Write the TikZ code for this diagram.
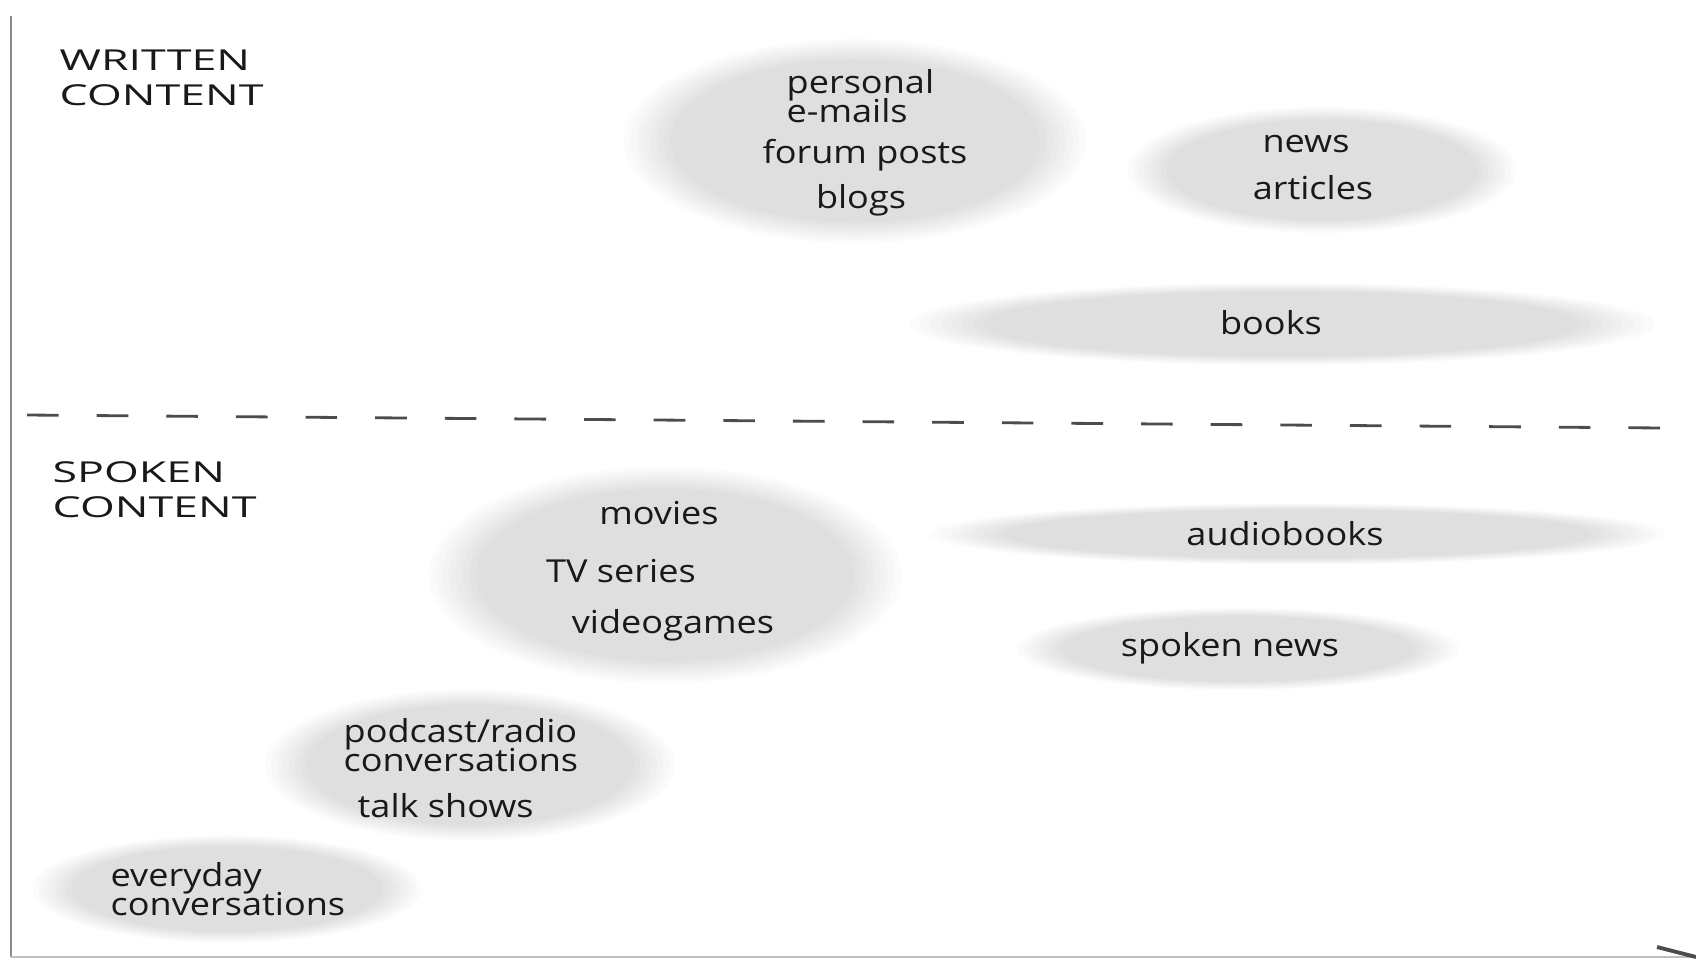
\documentclass[tikz,border=0pt]{standalone}
\usepackage{fontspec}
\setmainfont{Open Sans}
\newfontfamily\handfont[FakeStretch=1.14]{Open Sans}
\newfontfamily\capsfont[FakeStretch=1.55]{Open Sans}
% soft grey cloud: stacked faint ellipses round a named centre
\newcommand{\cloud}[5]{%
	\coordinate (#1) at (#2,#3);
	\foreach \s in {1.05,1.02,...,0.83}
		\fill[black, opacity=0.016] (#1) ellipse ({#4cm*\s} and {#5cm*\s});
}

\begin{document}
\begin{tikzpicture}
	[x=0.01cm, y=-0.01cm,
	hand/.style={font={\handfont\fontsize{9}{8.2}\selectfont\lineskiplimit=-20pt},
		text=black!90, inner sep=0pt, align=left},
	heading/.style={font={\capsfont\fontsize{8.2}{9.9}\selectfont},
		text=black!90, inner sep=0pt, align=left, anchor=west},
	axis/.style={draw=black!45, line width=0.8pt},
	divider/.style={draw=black!70, line width=0.8pt,
		dash pattern=on 9pt off 10.8pt}]
	\useasboundingbox (0,0) rectangle (1696,960);

	% grey clouds
	\cloud{mailcloud}{855}{141}{2.2}{0.97}
	\cloud{newscloud}{1322}{170}{1.85}{0.6}
	\cloud{bookcloud}{1282}{324}{3.55}{0.39}
	\cloud{moviecloud}{665}{575}{2.25}{1.03}
	\cloud{audiocloud}{1298}{534}{3.5}{0.29}
	\cloud{spokencloud}{1238}{649}{2.1}{0.39}
	\cloud{podcastcloud}{470}{765}{1.95}{0.72}
	\cloud{dailycloud}{227}{889}{1.85}{0.51}

	% axes and divider
	\coordinate (top) at (11,16);
	\coordinate (origin) at (11,957);
	\coordinate (right) at (1696,957);
	\coordinate (tick) at (1657,947);
	\draw[axis] (top) -- (origin);
	\draw[draw=black!25, line width=0.6pt] (origin) -- (right);
	\draw[black!70, line width=1.1pt] (tick) -- (right);
	\coordinate (divleft) at (27,415);
	\coordinate (divright) at (1663,428);
	\draw[divider] (divleft) -- (divright);

	% headings
	\node[heading] (written) at (59,78) {WRITTEN\\CONTENT};
	\node[heading] (spoken) at (52,490) {SPOKEN\\CONTENT};

	% written content
	\node[hand, anchor=west] (mails) at (786,96) {personal\\e-mails};
	\node[hand] (forum) at (865,155) {forum posts};
	\node[hand] (blogs) at (861,200) {blogs};
	\node[hand] (news) at (1306,144) {news};
	\node[hand] (articles) at (1313,188) {articles};
	\node[hand] (books) at (1271,323) {books};

	% spoken content
	\node[hand] (movies) at (659,513) {movies};
	\node[hand] (tv) at (621,571) {TV series};
	\node[hand] (games) at (673,625) {videogames};
	\node[hand] (audiobooks) at (1285,534) {audiobooks};
	\node[hand] (spokennews) at (1230,648) {spoken news};
	\node[hand, anchor=west] (podcast) at (343,745) {podcast/radio\\conversations};
	\node[hand, anchor=west] (talk) at (357,806) {talk shows};
	\node[hand, anchor=west] (everyday) at (110,889) {everyday\\conversations};
\end{tikzpicture}
\end{document}
